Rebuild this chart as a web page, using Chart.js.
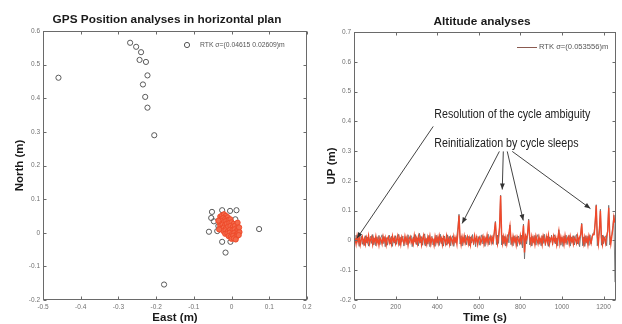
<!DOCTYPE html>
<html><head><meta charset="utf-8">
<script src="https://cdn.jsdelivr.net/npm/chart.js@4.4.0/dist/chart.umd.min.js"></script>
<style>
html,body{margin:0;padding:0;background:#fff;overflow:hidden;width:622px;height:324px;position:relative;}
#c1{position:absolute;left:0;top:0;}
#c2{position:absolute;left:311px;top:0;}
</style></head><body>
<canvas id="c1" width="334" height="324"></canvas>
<canvas id="c2" width="342" height="324"></canvas>
<script>
// ---------- Left chart data (East, North in metres) ----------
const eastOutliers  = [-0.459,-0.269,-0.253,-0.240,-0.244,-0.227,-0.223,-0.235,-0.229,-0.223,-0.205,-0.179,0.073,-0.060,-0.016,-0.025,-0.003,0.013,-0.052,-0.025,-0.004,-0.054,-0.047,-0.038,-0.035,0.010];
const northOutliers = [0.461,0.565,0.553,0.537,0.514,0.508,0.468,0.441,0.404,0.372,0.290,-0.154,0.011,0.003,-0.059,-0.027,-0.027,0.067,0.062,0.067,0.065,0.044,0.034,0.005,0.020,0.040];
const eastFixed  = [-0.030,-0.025,-0.020,-0.015,-0.028,-0.022,-0.017,-0.010,-0.032,-0.026,-0.020,-0.014,-0.008,-0.003,-0.030,-0.024,-0.018,-0.012,-0.006,0.000,0.005,-0.027,-0.021,-0.015,-0.009,-0.003,0.003,0.009,0.014,-0.022,-0.016,-0.010,-0.004,0.002,0.008,0.013,0.018,-0.017,-0.011,-0.005,0.001,0.007,0.012,0.017,0.021,-0.008,-0.002,0.004,0.010,0.015,0.019,0.000,0.006,0.011,-0.035,-0.033,0.016,0.020];
const northFixed = [0.048,0.052,0.055,0.050,0.040,0.044,0.041,0.046,0.030,0.034,0.032,0.036,0.038,0.040,0.020,0.024,0.022,0.027,0.029,0.031,0.026,0.012,0.015,0.013,0.018,0.020,0.017,0.021,0.014,0.005,0.007,0.004,0.009,0.007,0.010,0.005,0.008,-0.003,-0.002,0.000,-0.004,-0.001,-0.005,-0.002,0.002,-0.010,-0.012,-0.009,-0.013,-0.010,-0.007,-0.018,-0.017,-0.020,0.036,0.010,0.030,0.016];
const titleLeft = 'GPS Position analyses in horizontal plan';
const legendLeft = 'RTK \u03c3=(0.04615 0.02609)m';

// ---------- Right chart data (time s, UP m) ----------
const timeSec = [0,1,2,
5,10,15,20,25,30,35,40,45,50,
55,60,65,70,75,80,85,90,95,100,
105,110,115,120,125,130,135,140,145,150,
155,160,165,170,175,180,185,190,195,200,
205,210,215,220,225,230,235,240,245,250,
255,260,265,270,275,280,285,290,295,300,
305,310,315,320,325,330,335,340,345,350,
355,360,365,370,375,380,385,390,395,400,
405,410,415,420,425,430,435,440,445,450,
455,460,465,470,475,480,485,490,495,500,
505,510,515,520,525,530,535,540,545,550,
555,560,565,570,575,580,585,590,595,600,
605,610,615,620,625,630,635,640,645,650,
655,660,665,670,675,680,685,690,695,700,
705,710,715,720,725,730,735,740,745,750,
755,760,765,770,775,780,785,790,795,800,
805,810,815,820,825,830,835,840,845,850,
855,860,865,870,875,880,885,890,895,900,
905,910,915,920,925,930,935,940,945,950,
955,960,965,970,975,980,985,990,995,1000,
1005,1010,1015,1020,1025,1030,1035,1040,1045,1050,
1055,1060,1065,1070,1075,1080,1085,1090,1095,1100,
1105,1110,1115,1120,1125,1130,1135,1140,1145,1150,
1155,1160,1165,1170,1175,1180,1185,1190,1195,1200,
1205,1210,1215,1220,1225,1230,1235,1240,1245,1250,
1255];
const upRtk = [0.57,0.49,null,
0.008,-0.012,0.015,-0.006,0.011,-0.015,0.004,0.013,-0.009,0.006,
-0.013,0.010,-0.004,0.016,-0.011,0.003,0.012,-0.014,0.007,-0.005,
0.014,-0.010,0.005,-0.016,0.009,0.002,-0.012,0.013,-0.003,0.010,
-0.015,0.006,0.012,-0.008,0.004,-0.013,0.015,-0.002,0.009,-0.011,
0.003,0.016,-0.010,0.007,-0.014,0.012,0.001,-0.009,0.014,-0.006,
0.010,-0.016,0.005,0.013,-0.007,0.002,-0.012,0.017,-0.004,0.008,
-0.011,0.014,-0.003,0.009,-0.015,0.006,0.018,-0.008,0.004,-0.013,
0.011,-0.005,0.015,-0.012,0.007,0.002,-0.016,0.013,-0.006,0.010,
-0.009,0.016,-0.002,0.008,-0.014,0.012,0.003,-0.011,0.015,-0.007,
0.006,-0.013,0.011,0.002,-0.010,0.014,-0.005,0.009,-0.012,0.030,
0.084,0.010,-0.014,0.012,-0.006,0.015,-0.009,0.004,0.013,-0.011,
0.007,-0.015,0.010,0.002,-0.008,0.016,-0.004,0.011,-0.013,0.006,
0.012,-0.009,0.003,0.014,-0.012,0.008,-0.005,0.017,-0.010,0.004,
0.013,-0.007,0.010,-0.004,0.030,0.061,0.008,-0.012,0.015,0.045,
0.150,0.020,-0.010,0.013,-0.006,0.011,-0.013,0.008,0.025,0.048,
0.005,-0.011,0.014,-0.004,0.009,-0.015,0.012,0.002,-0.009,0.016,
-0.006,0.010,0.050,-0.040,0.015,0.004,0.025,0.068,0.012,-0.010,
0.014,-0.007,0.009,-0.013,0.016,0.003,-0.011,0.012,-0.005,0.008,
-0.014,0.015,0.002,-0.009,0.013,-0.006,0.018,-0.012,0.005,0.011,
-0.008,0.014,-0.003,0.010,-0.015,0.007,0.030,-0.010,0.012,-0.005,
0.009,-0.013,0.016,-0.007,0.004,0.012,-0.011,0.014,-0.004,0.008,
-0.012,0.010,0.003,-0.009,0.015,-0.006,0.011,0.020,0.055,0.005,
-0.013,0.012,-0.005,0.009,-0.014,0.016,0.002,-0.010,0.013,0.020,
0.020,0.060,0.117,0.015,-0.012,0.030,0.100,0.010,-0.014,0.012,
0.005,-0.010,0.015,0.030,0.110,0.020,-0.012,0.014,0.040,0.078,
0.060];
const upRaw = [null,null,null,
-0.010,0.018,-0.006,0.012,-0.020,0.009,0.015,-0.013,0.004,-0.017,
0.016,-0.008,0.011,-0.019,0.006,0.014,-0.010,0.020,-0.015,0.008,
-0.018,0.012,-0.004,0.017,-0.014,0.009,0.019,-0.011,0.013,-0.021,
0.010,-0.016,0.005,0.018,-0.012,0.014,-0.020,0.007,-0.009,0.016,
-0.013,0.008,0.021,-0.017,0.011,-0.006,0.015,-0.019,0.004,0.013,
-0.015,0.019,-0.010,0.006,0.016,-0.021,0.012,-0.005,0.020,-0.014,
0.009,-0.018,0.024,-0.008,0.013,-0.016,0.010,0.022,-0.019,0.007,
-0.012,0.017,-0.021,0.009,0.014,-0.015,0.006,-0.020,0.018,-0.009,
0.013,-0.017,0.021,-0.011,0.008,-0.019,0.015,-0.006,-0.016,0.019,
-0.010,0.014,-0.018,0.007,0.016,-0.020,0.011,-0.008,0.017,0.045,
0.088,-0.012,0.016,-0.019,0.010,-0.007,0.018,-0.015,0.009,0.014,
-0.018,0.012,-0.009,0.020,-0.014,0.006,-0.021,0.015,-0.010,0.013,
-0.016,0.008,0.019,-0.012,0.014,-0.020,0.010,-0.007,0.021,-0.015,
0.009,0.016,-0.013,0.010,0.025,0.064,-0.014,0.018,-0.010,0.040,
0.152,-0.015,0.017,-0.011,0.014,-0.019,0.009,0.020,-0.008,0.052,
-0.014,0.011,-0.018,0.016,-0.007,0.012,-0.020,0.015,0.006,-0.013,
0.018,-0.025,0.055,-0.062,0.020,-0.012,0.018,0.072,-0.015,0.010,
-0.019,0.014,-0.008,0.017,-0.016,0.011,0.020,-0.013,0.007,-0.018,
0.016,-0.010,0.021,-0.017,0.009,0.014,-0.020,0.012,-0.006,0.018,
-0.015,0.010,0.019,-0.012,0.008,-0.018,0.036,0.014,-0.016,0.011,
-0.020,0.015,-0.009,0.018,-0.014,0.010,0.017,-0.019,0.012,-0.007,
0.016,-0.015,0.013,0.020,-0.012,0.009,-0.021,0.015,0.058,-0.018,
0.012,-0.020,0.016,-0.009,0.014,-0.017,0.019,-0.012,0.008,0.025,
0.025,0.065,0.120,-0.018,0.014,0.040,0.105,-0.016,0.018,-0.011,
0.012,0.015,-0.018,0.040,0.118,-0.015,0.012,0.020,0.050,0.085,
-0.140];
const titleRight = 'Altitude analyses';
const legendRight = 'RTK \u03c3=(0.053556)m';

// annotation anchors in data units (time s, UP m)
const noteTexts = ['Resolution of the cycle ambiguity','Reinitialization by cycle sleeps'];
const noteAnchors = [[386,0.423],[386,0.326]];
const arrowFrom = [[381,0.383],[699,0.299],[718,0.299],[737,0.299],[761,0.299]];
const arrowTo   = [[14,0.007],[520,0.057],[713,0.171],[814,0.067],[1137,0.107]];

// ---------- helpers ----------
const FONT = 'Arial, "Liberation Sans", Helvetica, sans-serif';
Chart.defaults.font.family = FONT;
Chart.defaults.color = '#666';
const pts = (xs, ys) => xs.map((x,i)=>({x:x, y:ys[i]}));
const fmt = v => Math.abs(v) < 1e-9 ? '0' : (+v).toFixed(1);
const fmtInt = v => String(Math.round(v));

const matlabFrame = {
  id:'matlabFrame',
  afterDatasetsDraw(chart){
    const {ctx, chartArea:a, scales:{x,y}} = chart;
    ctx.save();
    ctx.strokeStyle = '#6a6a6a'; ctx.lineWidth = 1;
    const L = Math.round(a.left)+0.5, R = Math.round(a.right)-0.5, T = Math.round(a.top)+0.5, B = Math.round(a.bottom)-0.5;
    ctx.strokeRect(L, T, R-L, B-T);
    ctx.beginPath();
    x.ticks.forEach(t=>{const px=Math.round(x.getPixelForValue(t.value))+0.5; ctx.moveTo(px,B); ctx.lineTo(px,B-3); ctx.moveTo(px,T); ctx.lineTo(px,T+3);});
    y.ticks.forEach(t=>{const py=Math.round(y.getPixelForValue(t.value))+0.5; ctx.moveTo(L,py); ctx.lineTo(L+3,py); ctx.moveTo(R,py); ctx.lineTo(R-3,py);});
    ctx.stroke();
    ctx.restore();
  }
};
// chart heading, centred slightly left of the plot-area centre (as in the original figure)
const heading = {
  id:'heading',
  afterDraw(chart, args, opts){
    const {ctx, chartArea:a} = chart;
    ctx.save();
    ctx.fillStyle='#1a1a1a'; ctx.font='bold 11.8px '+FONT;
    ctx.textAlign='center'; ctx.textBaseline='middle';
    ctx.fillText(opts.text, (a.left+a.right)/2 + opts.shift, opts.y);
    ctx.restore();
  }
};

function axisX(min,max,step,title,cb){
  return {type:'linear', min:min, max:max, grid:{display:false, drawTicks:false}, border:{display:false},
    ticks:{stepSize:step, includeBounds:false, padding:3, color:'#707070', font:{size:6.5}, maxRotation:0, autoSkip:false, callback:cb},
    title:{display:true, text:title, color:'#1a1a1a', font:{size:11.5, weight:'bold', lineHeight:1.1}, padding:{top:0,bottom:0}},
    afterFit(s){ s.height = 24; }};
}
function axisY(min,max,step,title,cb,tpad){
  return {type:'linear', min:min, max:max, grid:{display:false, drawTicks:false}, border:{display:false},
    ticks:{stepSize:step, includeBounds:false, padding:3, color:'#707070', font:{size:6.5}, autoSkip:false, callback:cb},
    title:{display:true, text:title, color:'#1a1a1a', font:{size:11.5, weight:'bold', lineHeight:1.2}, padding:{top:tpad,bottom:0}},
    afterFit(s){ s.width = 43; }};
}

// ---------- left chart ----------
const leftLegend = {
  id:'leftLegend',
  afterDraw(chart){
    const {ctx, chartArea:a} = chart;
    ctx.save();
    ctx.strokeStyle='#555'; ctx.lineWidth=1;
    ctx.beginPath(); ctx.arc(a.right-120, a.top+14, 2.6, 0, Math.PI*2); ctx.stroke();
    ctx.fillStyle='#555'; ctx.font='6.8px '+FONT; ctx.textBaseline='middle';
    ctx.fillText(legendLeft, a.right-107, a.top+14);
    ctx.restore();
  }
};
new Chart(document.getElementById('c1'), {
  type:'scatter',
  data:{datasets:[
    {label:'RTK fixed', data:pts(eastFixed,northFixed), pointRadius:2.6, pointBorderWidth:1, borderColor:'#ef4b2b', backgroundColor:'#f3694a', pointHoverRadius:2.6},
    {label:legendLeft, data:pts(eastOutliers,northOutliers), pointRadius:2.6, pointBorderWidth:1, borderColor:'#5a5a5a', backgroundColor:'rgba(255,255,255,0)', pointHoverRadius:2.6}
  ]},
  options:{responsive:false, animation:false, devicePixelRatio:1,
    layout:{padding:{left:0,right:27,top:31,bottom:0}},
    plugins:{legend:{display:false}, tooltip:{enabled:false}, title:{display:false},
      heading:{text:titleLeft, shift:-8, y:20}},
    scales:{
      x:axisX(-0.5,0.2,0.1,'East (m)',fmt),
      y:axisY(-0.2,0.6,0.1,'North (m)',fmt,13)
    }},
  plugins:[matlabFrame, leftLegend, heading]
});

// ---------- right chart ----------
const rightExtras = {
  id:'rightExtras',
  afterDraw(chart){
    const {ctx, chartArea:a, scales:{x,y}} = chart;
    ctx.save();
    // legend
    ctx.strokeStyle='#8a5a50'; ctx.lineWidth=1;
    ctx.beginPath(); ctx.moveTo(a.right-99, a.top+15.5); ctx.lineTo(a.right-79, a.top+15.5); ctx.stroke();
    ctx.fillStyle='#555'; ctx.font='7.6px '+FONT; ctx.textBaseline='middle';
    ctx.fillText(legendRight, a.right-77, a.top+15);
    // annotations (narrowed sans to mimic the original condensed lettering)
    ctx.fillStyle='#222';
    ctx.font='12px '+FONT;
    noteTexts.forEach((t,i)=>{
      const px = x.getPixelForValue(noteAnchors[i][0]), py = y.getPixelForValue(noteAnchors[i][1]);
      ctx.save(); ctx.translate(px, py); ctx.scale(0.89, 1); ctx.fillText(t, 0, 0); ctx.restore();
    });
    ctx.strokeStyle='#444'; ctx.fillStyle='#333'; ctx.lineWidth=1;
    arrowFrom.forEach((f,i)=>{
      const x0=x.getPixelForValue(f[0]), y0=y.getPixelForValue(f[1]);
      const x1=x.getPixelForValue(arrowTo[i][0]), y1=y.getPixelForValue(arrowTo[i][1]);
      ctx.beginPath(); ctx.moveTo(x0,y0); ctx.lineTo(x1,y1); ctx.stroke();
      const ang=Math.atan2(y1-y0,x1-x0), len=6, w=2.4;
      ctx.beginPath(); ctx.moveTo(x1,y1);
      ctx.lineTo(x1-len*Math.cos(ang)+w*Math.sin(ang), y1-len*Math.sin(ang)-w*Math.cos(ang));
      ctx.lineTo(x1-len*Math.cos(ang)-w*Math.sin(ang), y1-len*Math.sin(ang)+w*Math.cos(ang));
      ctx.closePath(); ctx.fill();
    });
    ctx.restore();
  }
};
new Chart(document.getElementById('c2'), {
  type:'line',
  data:{datasets:[
    {label:legendRight, data:pts(timeSec,upRtk), borderColor:'#f0482a', borderWidth:1.4, pointRadius:0, tension:0, spanGaps:false},
    {label:'raw', data:pts(timeSec,upRaw), borderColor:'#666666', borderWidth:0.8, pointRadius:0, tension:0, spanGaps:false}
  ]},
  options:{responsive:false, animation:false, devicePixelRatio:1,
    layout:{padding:{left:0,right:37,top:32,bottom:0}},
    plugins:{legend:{display:false}, tooltip:{enabled:false}, title:{display:false},
      heading:{text:titleRight, shift:-3, y:22}},
    scales:{
      x:axisX(0,1260,200,'Time (s)',fmtInt),
      y:axisY(-0.2,0.7,0.1,'UP (m)',fmt,14)
    }},
  plugins:[matlabFrame, rightExtras, heading]
});
</script>
</body></html>
